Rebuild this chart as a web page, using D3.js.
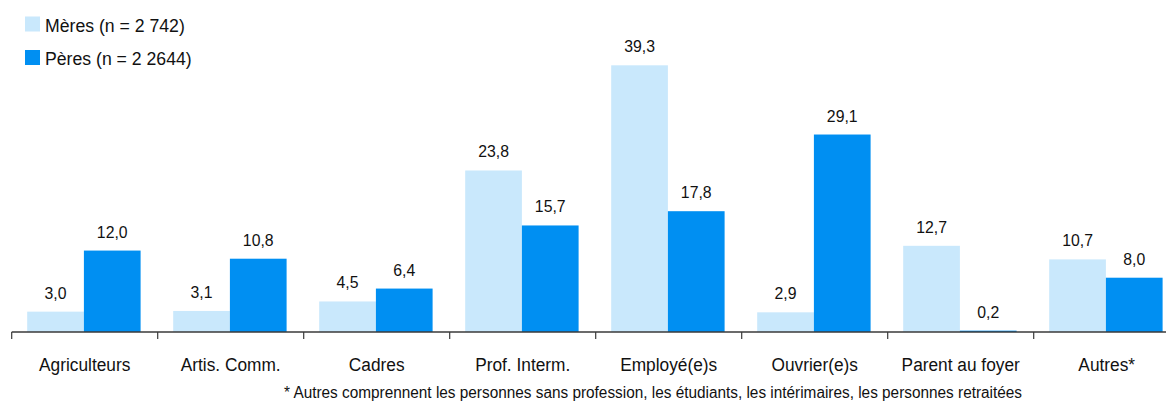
<!DOCTYPE html>
<html>
<head>
<meta charset="utf-8">
<script src="https://cdn.jsdelivr.net/npm/d3@7"></script>
<style>
  body { margin: 0; background: #fff; }
  text { font-family: "Liberation Sans", Arial, sans-serif; fill: #111; }
</style>
</head>
<body>
<div id="chart-area"></div>
<script>
const categories = ["Agriculteurs", "Artis. Comm.", "Cadres", "Prof. Interm.", "Employé(e)s", "Ouvrier(e)s", "Parent au foyer", "Autres*"];
const series = ["Mères (n = 2 742)", "Pères (n = 2 2644)"];
const meres = [3.0, 3.1, 4.5, 23.8, 39.3, 2.9, 12.7, 10.7];
const peres = [12.0, 10.8, 6.4, 15.7, 17.8, 29.1, 0.2, 8.0];
const colors = ["#c9e8fc", "#008ff2"];
const footnote = "* Autres comprennent les personnes sans profession, les étudiants, les intérimaires, les personnes retraitées";

const svgWidth = 1166, svgHeight = 401;

const svg = d3.select("#chart-area")
              .append("svg")
              .attr("width", svgWidth)
              .attr("height", svgHeight);

const data = categories.map((c, i) => ({ cat: c, values: [meres[i], peres[i]] }));

const x = d3.scaleBand()
            .domain(categories)
            .range([11.7, 11.7 + 8 * 146]);

const x1 = d3.scaleBand()
             .domain([0, 1])
             .range([15.5, 15.5 + 113.4]);

const y = d3.scaleLinear()
            .domain([0, 39.3])
            .range([332, 65.3]);

// text in the original is slightly condensed
function label(sel, px, py, size, txt, sx) {
  return sel.append("text")
            .attr("transform", `translate(${px},${py}) scale(${sx},1)`)
            .attr("font-size", size)
            .text(txt);
}

// bars
const groups = svg.selectAll("g.cat")
                  .data(data)
                  .enter()
                  .append("g")
                    .attr("class", "cat")
                    .attr("transform", d => `translate(${x(d.cat)},0)`);

groups.selectAll("rect")
      .data(d => d.values)
      .enter()
      .append("rect")
        .attr("x", (d, i) => x1(i))
        .attr("width", x1.bandwidth())
        .attr("y", d => y(d))
        .attr("height", d => y(0) - y(d))
        .attr("fill", (d, i) => colors[i]);

groups.each(function(d) {
  const g = d3.select(this);
  d.values.forEach((v, i) => {
    label(g, x1(i) + x1.bandwidth() / 2, y(v) - 13, 17, v.toFixed(1).replace(".", ","), 0.93)
      .attr("text-anchor", "middle");
  });
});

// axis
const xAxis = d3.axisBottom(x).tickSize(0).tickFormat("");
const ax = svg.append("g")
              .attr("transform", `translate(0,${y(0)})`)
              .call(xAxis);
ax.select(".domain").attr("d", `M${x.range()[0]},0H${svgWidth}`)
  .attr("stroke", "#3a3a3a").attr("stroke-width", 1.5);
ax.selectAll(".tick").remove();

ax.selectAll("line.bound")
  .data(categories)
  .enter()
  .append("line")
    .attr("class", "bound")
    .attr("x1", d => x(d))
    .attr("x2", d => x(d))
    .attr("y1", 0)
    .attr("y2", 7)
    .attr("stroke", "#3a3a3a")
    .attr("stroke-width", 1.2);

categories.forEach(c => {
  label(svg, x(c) + x.bandwidth() / 2, 371, 19, c, 0.91).attr("text-anchor", "middle");
});

// footnote
label(svg, 653, 397.5, 16, footnote, 0.96).attr("text-anchor", "middle");

// legend
series.forEach((s, i) => {
  svg.append("rect")
     .attr("x", 25)
     .attr("y", 16.5 + i * 33.5)
     .attr("width", 15)
     .attr("height", 15)
     .attr("fill", colors[i]);
  label(svg, 45, 31.7 + i * 33.5, 19, s, 0.93);
});
</script>
</body>
</html>
